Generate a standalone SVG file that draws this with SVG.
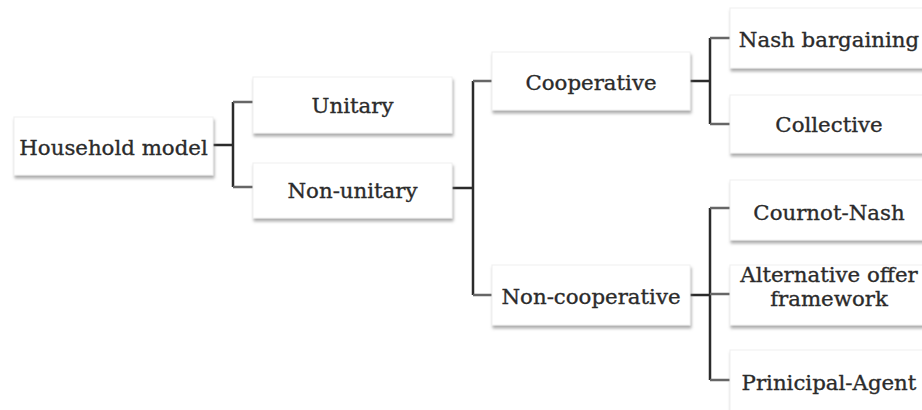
<svg xmlns="http://www.w3.org/2000/svg" width="922" height="410" viewBox="0 0 922 410">
<defs>
<filter id="sh" x="-10%" y="-20%" width="120%" height="150%">
<feDropShadow dx="1" dy="3" stdDeviation="1.4" flood-color="#777" flood-opacity="0.6"/>
</filter>
<style>
.box{fill:#fff;stroke:#f0f0f0;stroke-width:1;filter:url(#sh)}
.t{font-family:"DejaVu Serif","Liberation Serif",serif;font-size:21.3px;fill:#2b2b2b;stroke:#2b2b2b;stroke-width:0.35;text-anchor:middle}
.c{fill:none;stroke:#2b2b2b;stroke-width:2.5}
.s{fill:none;stroke:#666;stroke-width:2.5}
</style>
</defs>
<rect width="922" height="410" fill="#fff"/>
<g id="connectors">
<path class="c" d="M213 145H233M233 102V187"/>
<path class="s" d="M233 102H253M233 187H253"/>
<path class="c" d="M452 188H473M473 81V295"/>
<path class="s" d="M473 81H492M473 295H492"/>
<path class="c" d="M690 81H710M710 38V124"/>
<path class="s" d="M710 38H730M710 124H730"/>
<path class="c" d="M690 295H710M710 208V380"/>
<path class="s" d="M710 208H730M710 294H730M710 380H730"/>
</g>
<g id="household"><rect class="box" x="14" y="117" width="199" height="58"/><text class="t" x="113.5" y="155">Household model</text></g>
<g id="unitary"><rect class="box" x="253" y="77" width="199" height="56"/><text class="t" x="352.5" y="113">Unitary</text></g>
<g id="nonunitary"><rect class="box" x="253" y="163" width="199" height="55"/><text class="t" x="352.5" y="198">Non-unitary</text></g>
<g id="cooperative"><rect class="box" x="492" y="52" width="198" height="58"/><text class="t" x="591" y="90">Cooperative</text></g>
<g id="noncooperative"><rect class="box" x="492" y="265" width="198" height="60"/><text class="t" x="591" y="304">Non-cooperative</text></g>
<g id="nash"><rect class="box" x="730" y="8" width="198" height="60"/><text class="t" x="829" y="47">Nash bargaining</text></g>
<g id="collective"><rect class="box" x="730" y="95" width="198" height="58"/><text class="t" x="829" y="132">Collective</text></g>
<g id="cournot"><rect class="box" x="730" y="180" width="198" height="60"/><text class="t" x="829" y="220">Cournot-Nash</text></g>
<g id="alternative"><rect class="box" x="730" y="265" width="198" height="60"/><text class="t" x="829" y="282">Alternative offer</text><text class="t" x="829" y="306">framework</text></g>
<g id="principal"><rect class="box" x="730" y="350" width="198" height="70"/><text class="t" x="829" y="390">Prinicipal-Agent</text></g>
</svg>
